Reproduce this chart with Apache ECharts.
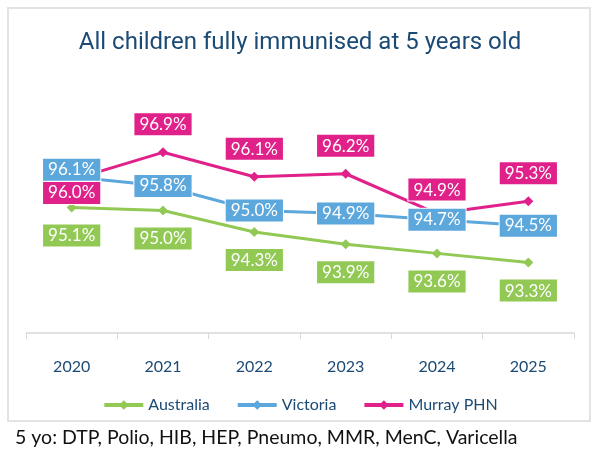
<!DOCTYPE html>
<html>
<head>
<meta charset="utf-8">
<script src="https://cdn.jsdelivr.net/npm/echarts@6/dist/echarts.min.js"></script>
<style>html,body{margin:0;padding:0;background:#fff;}#c{width:600px;height:451px;}</style>
</head>
<body>
<div id="c"></div>
<script>
const categories = ['2020', '2021', '2022', '2023', '2024', '2025'];
const australia = [95.1, 95.0, 94.3, 93.9, 93.6, 93.3];
const victoria = [96.1, 95.8, 95.0, 94.9, 94.7, 94.5];
const murray = [96.0, 96.9, 96.1, 96.2, 94.9, 95.3];

const GREEN = '#92C955', BLUE = '#5CA7DC', PINK = '#E0218A', NAVY = '#1B4A74';
const FONT = 'Lato, "Noto Sans", sans-serif';

function boxLabel(color, position, distance) {
  return {
    show: true, position: position, distance: distance,
    formatter: p => p.value.toFixed(1) + '%',
    backgroundColor: color, color: '#fff', fontFamily: FONT, fontSize: 17,
    padding: [3, 5, 2, 5], borderColor: '#fff', borderWidth: 1
  };
}

function series(name, vals, color, labelFn) {
  return {
    name: name, type: 'line', data: vals.map((v, i) => ({ value: v, label: labelFn(i) })),
    symbol: 'diamond', symbolSize: 10, lineStyle: { width: 3, color: color },
    itemStyle: { color: color }, label: boxLabel(color, 'top', 12)
  };
}

const chart = echarts.init(document.getElementById('c'));
chart.setOption({
  animation: false,
  backgroundColor: '#fff',
  title: [
    { text: 'All children fully immunised at 5 years old', left: 'center', top: 26,
      textStyle: { color: NAVY, fontFamily: 'Roboto, sans-serif', fontWeight: 'normal', fontSize: 24 } },
    { text: '5 yo: DTP, Polio, HIB, HEP, Pneumo, MMR, MenC, Varicella', left: 10, top: 423,
      textStyle: { color: '#111', fontFamily: FONT, fontWeight: 'normal', fontSize: 19.5 } }
  ],
  graphic: [{ type: 'rect', shape: { x: 8, y: 8, width: 582, height: 413 }, silent: true,
    style: { fill: 'none', stroke: '#e3e3e3', lineWidth: 2 } }],
  legend: { bottom: 33, left: 'center', itemWidth: 39, itemHeight: 12, itemGap: 26,
    lineStyle: { width: 4 },
    textStyle: { color: NAVY, fontFamily: FONT, fontSize: 16 } },
  grid: { left: 26, right: 26, top: 88, bottom: 118 },
  xAxis: { type: 'category', data: categories, boundaryGap: true,
    axisLine: { lineStyle: { color: '#d9d9d9', width: 1.5 } },
    axisTick: { show: true, length: 6, lineStyle: { color: '#d9d9d9' } },
    axisLabel: { color: NAVY, fontFamily: FONT, fontSize: 16, margin: 26 } },
  yAxis: { type: 'value', min: 91, max: 99, show: false, splitLine: { show: false } },
  series: [
    series('Australia', australia, GREEN, i => ({ position: 'bottom', distance: 12 })),
    series('Victoria', victoria, BLUE, i => i === 0 ? { position: 'inside', offset: [0, -7] } : { position: 'inside' }),
    series('Murray PHN', murray, PINK, i => i === 0 ? { position: 'inside', offset: [0, 13] }
      : (i === 4 ? { position: 'top', distance: 8 } : { position: 'top', distance: 12 }))
  ]
});
</script>
</body>
</html>
